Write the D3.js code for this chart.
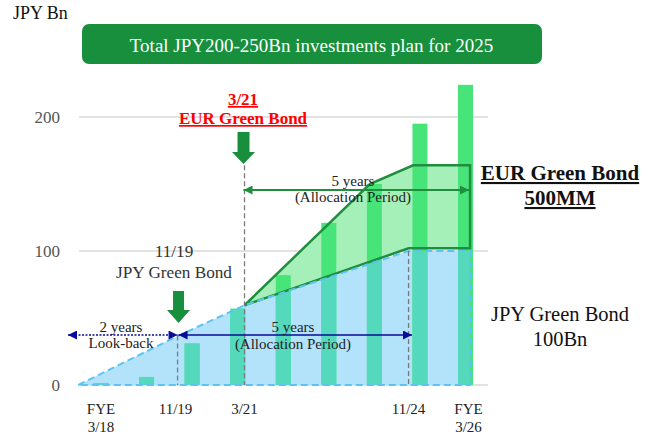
<!DOCTYPE html>
<html>
<head>
<meta charset="utf-8">
<script src="https://cdn.jsdelivr.net/npm/d3@7"></script>
<style>
  body { margin: 0; background: #fff; }
  svg, svg text { font-family: "Liberation Serif", "Times New Roman", serif; }
</style>
</head>
<body>
<svg id="chart" width="656" height="435"></svg>
<script>
// Data (x in years counted from FYE 3/18)
const barYears = [0, 1, 2, 3, 4, 5, 6, 7, 8];
const investment = [1.5, 6, 31, 57, 82, 121, 150, 195, 224];
const yTicks = [0, 100, 200];
const xTickYears = [0, 1.68, 3.15, 6.75, 8];
const xTickLabels = [["FYE", "3/18"], ["11/19"], ["3/21"], ["11/24"], ["FYE", "3/26"]];

// JPY Green Bond 100Bn envelope
const jpyYears = [-0.5, 1.68, 3.15, 6.75, 8.1];
const jpyValues = [0, 36.5, 59.5, 100, 100];

// EUR Green Bond 500MM envelope (upper edge, then lower edge going back)
const eurUpperYears = [3.15, 5.9, 6.85, 8.1];
const eurUpperValues = [59.5, 150, 164, 164];
const eurLowerYears = [8.1, 6.75, 3.15];
const eurLowerValues = [102, 102, 59.5];

// events: [year, top value, bottom value]
const jpyIssue = 1.68;
const eurIssue = 3.15;
const nov24 = 6.75;
const eventLines = [[jpyIssue, 37, 0], [eurIssue, 164, 0], [nov24, 100, 0]];

const svg = d3.select("#chart");

const x = d3.scaleLinear().domain([0, 8]).range([101, 465.5]);
const y = d3.scaleLinear().domain([0, 200]).range([385, 117]);
const barW = 15;

const green = "#1f8e3d";
const navy = "#0a0a9a";

// markers
const defs = svg.append("defs");
function marker(id, color) {
  defs.append("marker")
    .attr("id", id)
    .attr("viewBox", "0 0 10 10")
    .attr("refX", 10).attr("refY", 5)
    .attr("markerUnits", "userSpaceOnUse")
    .attr("markerWidth", 11).attr("markerHeight", 9)
    .attr("orient", "auto-start-reverse")
    .append("path")
    .attr("d", "M0,0L10,5L0,10z")
    .attr("fill", color);
}
marker("arrNavy", navy);
marker("arrGreen", green);

// unit title
svg.append("text").attr("x", 13).attr("y", 19)
  .attr("font-size", 18).attr("fill", "#111").text("JPY Bn");

// banner
svg.append("rect").attr("x", 82).attr("y", 24).attr("width", 460).attr("height", 40)
  .attr("rx", 7).attr("fill", "#178f3d");
svg.append("text").attr("x", 311.5).attr("y", 52).attr("text-anchor", "middle")
  .attr("font-size", 19).attr("fill", "#fff")
  .text("Total JPY200-250Bn investments plan for 2025");

// gridlines and y labels
svg.append("g").selectAll("line").data(yTicks).join("line")
  .attr("x1", 79).attr("x2", 488)
  .attr("y1", d => y(d)).attr("y2", d => y(d))
  .attr("stroke", "#d9d9d9").attr("stroke-width", 1.3);
svg.append("g").selectAll("text").data(yTicks).join("text")
  .attr("x", 60).attr("y", d => y(d) + 6)
  .attr("text-anchor", "end").attr("font-size", 17).attr("fill", "#555")
  .text(d => d);

// areas
const pts = (xs, vs) => xs.map((v, i) => [x(v), y(vs[i])]);
const line = d3.line();
const eurPts = pts(eurUpperYears, eurUpperValues).concat(pts(eurLowerYears, eurLowerValues));
const jpyPts = pts(jpyYears, jpyValues).concat([[x(jpyYears[jpyYears.length - 1]), y(0)]]);

svg.append("path").attr("d", line(eurPts) + "Z").attr("fill", "#a5efb8");
svg.append("path").attr("d", line(jpyPts) + "Z").attr("fill", "#b3e3fb");

defs.append("clipPath").attr("id", "jpyClip")
  .append("path").attr("d", line(jpyPts) + "Z");

// bars: green, and teal where they sit inside the JPY envelope
function drawBars(g, color) {
  g.selectAll("rect").data(barYears).join("rect")
    .attr("x", d => x(d) - barW / 2).attr("width", barW)
    .attr("y", (d, i) => y(investment[i]))
    .attr("height", (d, i) => y(0) - y(investment[i]))
    .attr("fill", color);
}
drawBars(svg.append("g"), "#47e47a");
drawBars(svg.append("g").attr("clip-path", "url(#jpyClip)"), "#55d9bd");

// outlines
svg.append("path").attr("d", line(eurPts) + "Z")
  .attr("fill", "none").attr("stroke", green).attr("stroke-width", 2.5);
svg.append("path").attr("d", line(jpyPts) + "Z")
  .attr("fill", "none").attr("stroke", "#5cc3f4").attr("stroke-width", 2)
  .attr("stroke-dasharray", "7,4");

// grey dashed event lines
svg.append("g").selectAll("line").data(eventLines).join("line")
  .attr("x1", d => x(d[0])).attr("x2", d => x(d[0]))
  .attr("y1", d => y(d[1])).attr("y2", d => y(d[2]))
  .attr("stroke", "#7a7a7a").attr("stroke-width", 1.3)
  .attr("stroke-dasharray", "5,3");

// block arrows
function blockArrow(cx, top, shaftW, shaftH, headW, headH) {
  const p = [
    [cx - shaftW / 2, top], [cx + shaftW / 2, top], [cx + shaftW / 2, top + shaftH],
    [cx + headW / 2, top + shaftH], [cx, top + shaftH + headH],
    [cx - headW / 2, top + shaftH], [cx - shaftW / 2, top + shaftH]
  ];
  svg.append("path").attr("d", line(p) + "Z").attr("fill", "#188f3c");
}
blockArrow(x(jpyIssue) + 1, 291, 11, 19, 23, 13);
blockArrow(x(eurIssue) - 1, 132, 12, 20, 23, 12);

// double-headed period arrows
function periodArrow(x1, x2, yy, color, markerId, dash, width) {
  svg.append("line").attr("x1", x1).attr("x2", x2).attr("y1", yy).attr("y2", yy)
    .attr("stroke", color).attr("stroke-width", width)
    .attr("stroke-dasharray", dash)
    .attr("marker-start", `url(#${markerId})`)
    .attr("marker-end", `url(#${markerId})`);
}
periodArrow(68, x(jpyIssue), 335, navy, "arrNavy", "2,1.5", 1.3);
periodArrow(x(jpyIssue) + 1, 412, 335, navy, "arrNavy", null, 1.3);
periodArrow(x(eurIssue) - 1, 469, 190, green, "arrGreen", null, 2.2);

function label(lines, cx, baseline, size, opts = {}) {
  const t = svg.append("text").attr("text-anchor", "middle")
    .attr("font-size", size).attr("fill", opts.fill || "#222")
    .attr("font-weight", opts.bold ? "bold" : null);
  if (opts.underline) t.style("text-decoration", "underline");
  lines.forEach((s, i) => {
    t.append("tspan").attr("x", cx).attr("y", baseline + i * (opts.lh || size * 1.15)).text(s);
  });
}
label(["2 years", "Look-back"], 121, 332, 15, { lh: 16 });
label(["5 years", "(Allocation Period)"], 293, 332, 15, { lh: 17 });
label(["5 years", "(Allocation Period)"], 353, 186, 15, { lh: 16 });

label(["11/19", "JPY Green Bond"], 174, 257, 17.2, { lh: 21, fill: "#333" });
label(["3/21", "EUR Green Bond"], 243, 105, 17, { lh: 19, fill: "#ff0000", bold: true, underline: true });
label(["EUR Green Bond", "500MM"], 560, 180, 21, { lh: 25, fill: "#111", bold: true, underline: true });
label(["JPY Green Bond", "100Bn"], 560, 321, 20.5, { lh: 25, fill: "#111" });

// x labels
xTickYears.forEach((v, i) => {
  const off = i === 4 ? 3 : (i === 1 ? -2 : 0);
  label(xTickLabels[i], x(v) + off, 414, 15, { lh: 18, fill: "#222" });
});
</script>
</body>
</html>
